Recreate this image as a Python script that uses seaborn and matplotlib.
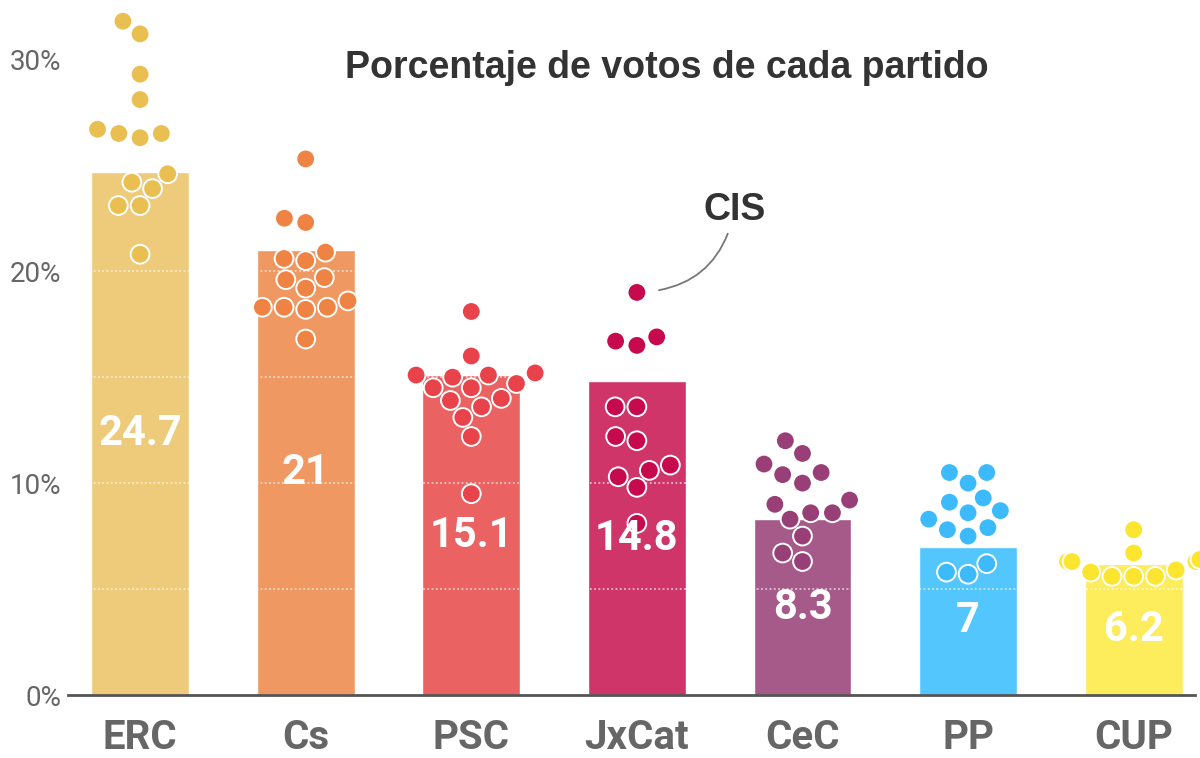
import matplotlib
matplotlib.use("Agg")
import matplotlib.pyplot as plt
import seaborn as sns
import pandas as pd

# Party averages
parties = ['ERC', 'Cs', 'PSC', 'JxCat', 'CeC', 'PP', 'CUP']
average = [24.7, 21, 15.1, 14.8, 8.3, 7, 6.2]
value_labels = ['24.7', '21', '15.1', '14.8', '8.3', '7', '6.2']
y_ticks = [0, 10, 20, 30]
y_tick_labels = ['0%', '10%', '20%', '30%']

# Individual polls for each party
polls_erc = [31.8, 31.2, 29.3, 28.1, 26.5, 26.3, 26.7, 26.5, 24.6, 24.2, 23.9, 23.1, 23.1, 20.8]
polls_cs = [25.3, 22.5, 22.3, 20.9, 20.6, 20.5, 19.7, 19.6, 19.2, 18.3, 18.2, 18.3, 18.6, 18.3, 16.8]
polls_psc = [18.1, 16.0, 15.1, 15.1, 15.2, 15.0, 14.5, 14.5, 14.7, 13.9, 14.0, 13.6, 13.1, 12.2, 9.5]
polls_jxcat = [19.0, 16.9, 16.7, 16.5, 13.6, 13.6, 12.0, 12.2, 10.85, 10.6, 10.3, 9.8, 8.1]
polls_cec = [12.0, 11.4, 10.9, 10.4, 10.5, 10.0, 9.0, 9.2, 8.6, 8.6, 8.3, 7.5, 6.7, 6.3]
polls_pp = [10.0, 10.5, 10.5, 9.3, 9.1, 8.6, 8.7, 8.3, 7.5, 7.8, 7.9, 5.7, 5.8, 6.2]
polls_cup = [7.8, 6.3, 6.3, 6.3, 6.4, 6.7, 5.9, 5.6, 5.6, 5.6, 5.8]

bar_colors = ['#EDCB7A', '#F09862', '#EA6262', '#CF3569', '#A65A89', '#52C6FD', '#FDEC5B']
dot_colors = ['#E9BF52', '#EE8344', '#E8424A', '#C70A4E', '#993F78', '#3DBAFB', '#FCE52E']

bars = pd.DataFrame({'party': parties, 'value': average})
all_polls = [polls_erc, polls_cs, polls_psc, polls_jxcat, polls_cec, polls_pp, polls_cup]
polls = pd.DataFrame({
    'party': [p for p, vals in zip(parties, all_polls) for _ in vals],
    'value': [v for vals in all_polls for v in vals],
})

sns.set_style('white')
plt.rcParams['font.family'] = ['Roboto', 'DejaVu Sans']

fig = plt.figure(figsize=(12, 7.58), dpi=100)
ax = fig.add_axes([0.0567, 0.0831, 0.9391, 0.9169])

sns.barplot(data=bars, x='party', y='value', hue='party', order=parties,
            palette=dict(zip(parties, bar_colors)), saturation=1, width=0.59,
            legend=False, ax=ax, zorder=1)

# white dotted guides every 5%
for g in range(5, 31, 5):
    ax.axhline(g, color='white', lw=1.1, ls=(0, (1.2, 1.6)), alpha=0.75, zorder=2)

sns.swarmplot(data=polls, x='party', y='value', hue='party', order=parties,
              palette=dict(zip(parties, dot_colors)), size=13.5,
              edgecolor='white', linewidth=1.4, legend=False, ax=ax,
              zorder=3, clip_on=False)

# value labels in the middle of each bar
for i, (v, lab) in enumerate(zip(average, value_labels)):
    ax.text(i, v / 2, lab, ha='center', va='center', color='white',
            fontsize=30, fontweight='bold', zorder=4)

ax.set_xlim(-0.435, 6.37)
ax.set_ylim(0, 32.8)
ax.set_yticks(y_ticks)
ax.set_yticklabels(y_tick_labels, fontsize=20, color='#666666')
ax.tick_params(axis='y', length=0, pad=5)
ax.tick_params(axis='x', length=0, pad=17, labelsize=29, labelcolor='#666666')
for lab in ax.get_xticklabels():
    lab.set_fontweight('bold')
ax.set_xlabel('')
ax.set_ylabel('')
for s in ['top', 'right', 'left']:
    ax.spines[s].set_visible(False)
ax.spines['bottom'].set_color('#555555')
ax.spines['bottom'].set_linewidth(2)
ax.spines['bottom'].set_zorder(5)

fig.text(0.556, 0.91, 'Porcentaje de votos de cada partido', ha='center', va='center',
         fontsize=27, fontweight='bold', color='#333333', family='Liberation Sans')

# CIS note on the highest JxCat poll
jx = parties.index('JxCat')
ax.annotate('CIS', xy=(jx, max(polls_jxcat)), xytext=(3.59, 22.9),
            ha='center', va='center', fontsize=27, fontweight='bold',
            color='#333333', family='Liberation Sans',
            arrowprops=dict(arrowstyle='-', color='#777777', lw=1.3,
                            connectionstyle='arc3,rad=-0.4',
                            shrinkA=2, shrinkB=16))

fig.savefig('out.png', dpi=100)
